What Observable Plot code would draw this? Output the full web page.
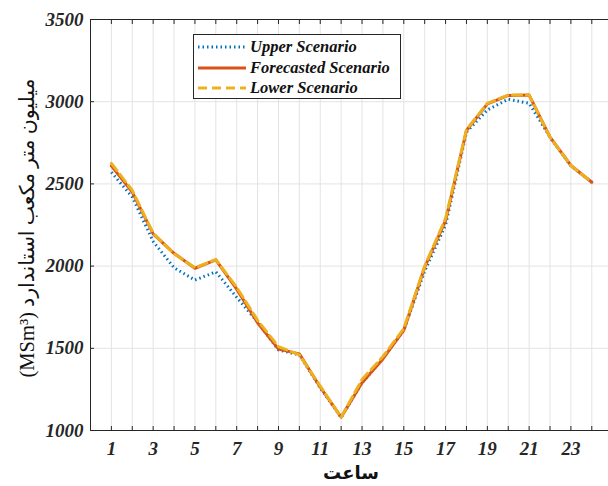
<!DOCTYPE html>
<html>
<head>
<meta charset="utf-8">
<script src="https://cdn.jsdelivr.net/npm/d3@7"></script>
<script src="https://cdn.jsdelivr.net/npm/@observablehq/plot@0.6"></script>
<style>
  body { margin: 0; background: #fff; }
  #wrap { position: relative; width: 608px; height: 486px; }
  #legend {
    position: absolute; left: 193px; top: 34px; width: 208px; height: 65px;
    border: 1px solid #262626; background: #fff; box-sizing: border-box;
    font-family: "Liberation Serif", "Times New Roman", serif; font-weight: bold; font-style: italic;
    font-size: 16.5px; color: #111;
  }
  .row { position: absolute; left: 3px; height: 20px; display: flex; align-items: center; }
  .row svg { margin-right: 3px; }
</style>
</head>
<body>
<div id="wrap"></div>
<script>
const hours = d3.range(1, 25);
const upper = [2571, 2420, 2150, 1990, 1915, 1965, 1810, 1660, 1490, 1460, 1260, 1080, 1290, 1440, 1610, 1970, 2250, 2815, 2950, 3015, 2990, 2785, 2610, 2510];
const forecasted = [2610, 2450, 2196, 2078, 1987, 2038, 1860, 1655, 1495, 1466, 1263, 1081, 1290, 1435, 1610, 1993, 2277, 2825, 2987, 3038, 3040, 2784, 2612, 2510];
const lower = [2625, 2460, 2200, 2075, 1990, 2040, 1870, 1670, 1510, 1460, 1270, 1081, 1310, 1450, 1620, 2000, 2290, 2830, 2990, 3040, 3040, 2784, 2612, 2510];
const xTickLabels = [1, 3, 5, 7, 9, 11, 13, 15, 17, 19, 21, 23];
const yTicks = [1000, 1500, 2000, 2500, 3000, 3500];
const seriesNames = ["Upper Scenario", "Forecasted Scenario", "Lower Scenario"];
const colors = ["#0072BD", "#D95319", "#EDB120"];
const xLabel = "ساعت";
const yLabel = "(MSm³) میلیون متر مکعب استاندارد";

const rows = (vals) => hours.map((h, i) => ({h, v: vals[i]}));
const serif = "'Liberation Serif', 'Times New Roman', serif";

const chart = Plot.plot({
  width: 608, height: 486,
  marginLeft: 90, marginRight: 0, marginTop: 19, marginBottom: 56,
  style: {fontFamily: serif, background: "#fff", overflow: "visible"},
  x: {domain: [0, 24.8], label: null},
  y: {domain: [1000, 3500], label: null},
  marks: [
    Plot.gridX(hours, {stroke: "#e3e3e3", strokeOpacity: 1, strokeWidth: 1}),
    Plot.gridY(yTicks, {stroke: "#e3e3e3", strokeOpacity: 1, strokeWidth: 1}),
    Plot.ruleX([0], {stroke: "#262626", strokeWidth: 1}),
    Plot.ruleY([1000], {stroke: "#262626", strokeWidth: 1}),
    Plot.ruleY([3500], {stroke: "#262626", strokeWidth: 1}),
    Plot.axisX({ticks: hours, tickSize: -4, tickFormat: () => "", stroke: "#262626", label: null}),
    Plot.axisX({anchor: "top", ticks: hours, tickSize: -4, tickFormat: () => "", stroke: "#262626", label: null}),
    Plot.axisY({ticks: yTicks, tickSize: -4, tickFormat: () => "", stroke: "#262626", label: null}),
    Plot.axisX({ticks: xTickLabels, tickSize: 0, tickPadding: 11, fontSize: 19, fontWeight: "bold", fontStyle: "italic", fill: "#262626", label: null}),
    Plot.axisY({ticks: yTicks, tickSize: 0, tickPadding: 7, tickFormat: d3.format("d"), fontSize: 19, fontWeight: "bold", fontStyle: "italic", fill: "#262626", label: null}),
    Plot.line(rows(upper), {x: "h", y: "v", stroke: colors[0], strokeWidth: 3, strokeDasharray: "1.5,3", strokeLinecap: "butt"}),
    Plot.line(rows(forecasted), {x: "h", y: "v", stroke: colors[1], strokeWidth: 3}),
    Plot.line(rows(lower), {x: "h", y: "v", stroke: colors[2], strokeWidth: 3, strokeDasharray: "9,5"})
  ]
});

const svg = d3.select(chart);
svg.append("text")
  .attr("x", 351).attr("y", 479)
  .attr("text-anchor", "middle")
  .attr("font-family", "'DejaVu Sans', sans-serif")
  .attr("font-weight", "bold").attr("font-size", 18).attr("fill", "#111")
  .text(xLabel);
svg.append("text")
  .attr("transform", "translate(34,228) rotate(-90)")
  .attr("text-anchor", "middle")
  .attr("font-family", "'Liberation Serif', 'DejaVu Sans', serif")
  .attr("font-size", 20.5).attr("fill", "#111")
  .text(yLabel);

const wrap = document.getElementById("wrap");
wrap.appendChild(chart);

const legend = document.createElement("div");
legend.id = "legend";
const dashes = ["1.5,3", null, "9,5"];
seriesNames.forEach((name, i) => {
  const row = document.createElement("div");
  row.className = "row";
  row.style.top = (2 + i * 20.5) + "px";
  const s = d3.create("svg").attr("width", 50).attr("height", 10);
  s.append("line").attr("x1", 1).attr("x2", 49).attr("y1", 5).attr("y2", 5)
    .attr("stroke", colors[i]).attr("stroke-width", 3)
    .attr("stroke-dasharray", dashes[i]);
  row.appendChild(s.node());
  const t = document.createElement("span");
  t.textContent = name;
  row.appendChild(t);
  legend.appendChild(row);
});
wrap.appendChild(legend);
</script>
</body>
</html>
